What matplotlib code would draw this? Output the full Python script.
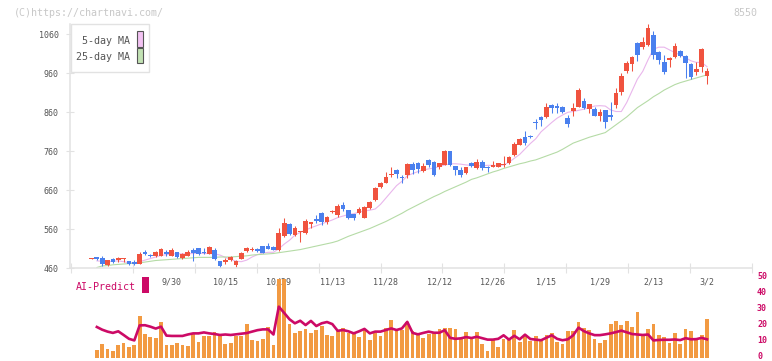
import numpy as np
import matplotlib
matplotlib.use("Agg")
import matplotlib.pyplot as plt
import matplotlib.transforms as mtransforms
from matplotlib.patches import Rectangle

plt.rcParams["font.family"] = ["DejaVu Sans Mono"]

W, H = 772, 361
nan = np.nan

# daily candles (open, high, low, close)
opens = [485, 489, 487, 468, 483, 481, 483, 479, 477, 471, 503, 494, 491, 492, 503, 492, 502, 487, 492, 508,
         511, 502, 497, 508, 479, 476, 482, 468, 484, 504, 507, 510, 516, 517, 515, 507, 544, 573, 545, 553,
         551, 573, 586, 602, 580, 605, 597, 622, 609, 599, 602, 590, 615, 635, 668, 680, 700, 713, 695, 699,
         727, 729, 709, 737, 733, 719, 726, 761, 722, 712, 705, 729, 716, 733, 721, 721, 721, 725, 730, 751,
         777, 796, 799, 835, 849, 848, 879, 877, 873, 845, 863, 874, 889, 868, 868, 850, 866, 853, 879, 912,
         967, 983, 1037, 1028, 1033, 1058, 1015, 990, 995, 1003, 1017, 1004, 984, 964, 977, 952]
highs = [487, 490, 491, 482, 486, 488, 487, 480, 481, 501, 508, 497, 505, 513, 508, 511, 503, 498, 507, 511,
         513, 511, 517, 511, 480, 486, 491, 481, 502, 515, 514, 512, 518, 524, 516, 563, 590, 575, 568, 556,
         586, 580, 597, 605, 593, 610, 624, 631, 610, 600, 618, 620, 633, 669, 681, 706, 720, 715, 699, 729,
         732, 733, 729, 740, 735, 731, 763, 762, 723, 719, 721, 733, 740, 738, 722, 735, 731, 748, 747, 783,
         794, 812, 801, 842, 851, 883, 881, 883, 876, 853, 883, 923, 896, 882, 874, 869, 867, 887, 922, 962,
         992, 1005, 1041, 1052, 1086, 1069, 1017, 1007, 1001, 1037, 1019, 1007, 986, 990, 1024, 973]
lows = [484, 482, 467, 467, 474, 475, 475, 468, 469, 470, 495, 488, 490, 491, 492, 491, 487, 483, 491, 479,
        495, 496, 496, 481, 462, 470, 480, 464, 483, 501, 505, 503, 498, 509, 506, 505, 541, 545, 544, 528,
        549, 563, 575, 571, 574, 603, 592, 607, 586, 584, 600, 588, 613, 633, 666, 678, 695, 691, 680, 691,
        701, 704, 707, 719, 697, 714, 724, 722, 698, 693, 703, 719, 714, 712, 708, 719, 719, 719, 728, 749,
        775, 776, 794, 817, 825, 846, 857, 857, 857, 823, 850, 873, 868, 857, 850, 838, 820, 840, 870, 904,
        962, 966, 992, 1022, 1030, 997, 984, 958, 977, 998, 1001, 949, 945, 956, 964, 932]
closes = [486, 483, 470, 481, 477, 486, 486, 471, 470, 497, 497, 491, 503, 510, 497, 508, 489, 497, 502, 500,
          497, 498, 515, 484, 467, 482, 488, 480, 499, 513, 509, 504, 499, 510, 507, 551, 575, 549, 563, 555,
          581, 578, 581, 580, 592, 608, 620, 612, 588, 588, 612, 618, 631, 667, 679, 694, 702, 703, 691, 727,
          712, 715, 722, 726, 698, 729, 761, 724, 711, 700, 719, 722, 733, 716, 717, 725, 729, 727, 745, 778,
          792, 781, 796, 832, 841, 874, 870, 871, 862, 831, 872, 917, 872, 881, 851, 862, 836, 849, 910, 953,
          987, 1003, 1007, 1041, 1077, 1007, 994, 964, 998, 1030, 1005, 987, 951, 971, 1022, 965]

ma5 = [nan, 479, 478, 477, 478, 479, 477, 474, 474, 477, 481, 485, 489, 493, 495, 497, 497, 497, 497, 498,
       499, 498, 498, 497, 494, 488, 483, 478, 477, 481, 489, 495, 499, 501, 501, 510, 522, 532, 545, 552,
       558, 564, 569, 574, 579, 584, 590, 594, 598, 600, 604, 607, 609, 612, 624, 640, 656, 672, 683, 697,
       703, 708, 712, 715, 717, 721, 725, 728, 728, 727, 725, 724, 723, 723, 724, 724, 723, 725, 732, 742,
       752, 766, 780, 792, 810, 822, 834, 845, 853, 860, 862, 865, 868, 872, 876, 877, 876, 866, 862, 862,
       885, 915, 945, 965, 995, 1022, 1027, 1027, 1020, 1013, 1007, 1000, 992, 988, 988, 977]
ma25 = [nan, 462, 466, 467, 469, 470, 471, 472, 473, 474, 476, 478, 480, 481, 482, 483, 484, 485, 486, 487,
        488, 488, 488, 488, 489, 489, 489, 490, 491, 492, 494, 495, 496, 497, 498, 500, 502, 504, 506, 508,
        511, 514, 517, 520, 523, 526, 530, 536, 542, 547, 552, 557, 562, 568, 574, 580, 587, 594, 601, 609,
        616, 623, 630, 637, 644, 650, 657, 663, 669, 675, 681, 688, 692, 697, 702, 707, 711, 716, 720, 724,
        728, 731, 735, 738, 743, 748, 753, 758, 765, 773, 781, 786, 791, 796, 800, 804, 808, 818, 828, 838,
        848, 860, 872, 881, 890, 900, 908, 917, 924, 931, 936, 940, 944, 948, 952, 956]

volume = [nan, 4.8, 8.6, 5.4, 4.2, 7.9, 9.4, 6.7, 7.9, 26.3, 14.8, 12.9, 12.3, 22.3, 7.9, 7.9, 9.2, 7.9, 7.3, 14.8,
          9.8, 13.5, 13.5, 16.0, 13.5, 8.6, 9.2, 13.5, 13.5, 21.0, 11.0, 10.4, 11.7, 19.2, 7.9, 49.0, 49.0, 21.0, 15.4, 16.7,
          17.9, 15.4, 17.3, 19.8, 14.2, 13.5, 16.7, 18.6, 15.4, 15.4, 12.9, 17.3, 11.0, 15.4, 13.5, 18.6, 23.6, 17.3, 17.3, 22.3,
          16.9, 14.2, 12.3, 14.8, 16.0, 17.9, 18.6, 18.6, 17.9, 11.7, 16.0, 12.9, 16.0, 8.6, 4.2, 11.0, 6.7, 11.7, 11.7, 17.3,
          9.8, 13.5, 10.4, 13.5, 11.7, 14.2, 15.4, 9.8, 8.6, 16.7, 16.7, 22.3, 18.6, 17.3, 11.7, 9.2, 11.0, 21.0, 22.9, 20.4,
          22.9, 19.4, 28.5, 13.5, 17.9, 21.0, 14.2, 13.1, 9.2, 15.2, 8.6, 17.9, 16.7, 11.0, 14.2, 24.2]
ai_predict = [nan, 19.2, 17.5, 16.3, 15.5, 16.5, 14.2, 11.8, 10.8, 20.2, 20.3, 19.4, 18.2, 19.4, 13.8, 13.6, 13.6, 13.6, 14.5, 15.2,
              15.2, 15.8, 15.2, 14.8, 14.2, 14.5, 14.2, 14.6, 15.0, 15.4, 16.3, 17.2, 17.7, 17.7, 14.5, 31.9, 28.0, 24.0, 21.5, 23.1,
              20.4, 23.0, 19.8, 21.5, 22.3, 21.0, 16.8, 17.3, 16.5, 15.2, 16.5, 18.0, 15.2, 16.3, 16.3, 17.3, 18.3, 17.3, 18.3, 22.4,
              15.5, 14.6, 15.5, 16.3, 15.6, 15.6, 17.2, 12.4, 11.8, 12.1, 12.9, 12.3, 13.1, 12.2, 11.3, 11.3, 11.8, 14.0, 11.3, 13.7,
              11.5, 14.4, 11.7, 11.3, 10.9, 12.5, 14.0, 11.8, 10.9, 11.5, 14.0, 18.8, 16.6, 15.2, 14.1, 14.1, 14.6, 15.2, 16.0, 16.9,
              15.9, 14.8, 14.5, 14.2, 14.5, 10.8, 11.1, 11.2, 11.2, 11.4, 11.0, 12.2, 11.5, 11.6, 12.4, 11.5]

date_labels = ["9/30", "10/15", "10/29", "11/13", "11/28", "12/12", "12/26", "1/15", "1/29", "2/13", "3/2"]
date_label_idx = [15, 25, 35, 45, 55, 65, 75, 85, 95, 105, 115]
price_ticks = [460, 560, 660, 760, 860, 960, 1060]
predict_ticks = [0, 10, 20, 30, 40, 50]

RED = "#f0533f"
BLUE = "#4a80ee"
PINK = "#e9b6ec"
GREEN = "#b5dba6"
ORANGE = "#f29a42"
MAG = "#cc0a66"
AXIS = "#e2e2e2"
TXT = "#555555"

opens, highs, lows, closes = map(np.array, (opens, highs, lows, closes))
x = np.arange(len(closes))


def frame(x0, y0, x1, y1):
    # pixel box -> figure fraction
    return [x0 / W, 1 - y1 / H, (x1 - x0) / W, (y1 - y0) / H]


# x-range: pixel 70..752, candle 0 at 91.5, 5.352 px per day
xlim = ((70 - 91.5) / 5.352, (752 - 91.5) / 5.352)

fig = plt.figure(figsize=(W / 100, H / 100), dpi=100)

ax = fig.add_axes(frame(70, 24, 752, 268.3))
colors = np.where(closes >= opens, RED, BLUE)
ax.plot(x, ma5, color=PINK, lw=0.8, zorder=1)
ax.plot(x, ma25, color=GREEN, lw=0.8, zorder=1)
ax.vlines(x, lows, highs, colors=colors, lw=0.75, zorder=2)
body_bottom = np.minimum(opens, closes)
body_height = np.maximum(np.abs(closes - opens), 2.6)
ax.bar(x, body_height, 0.88, bottom=body_bottom, color=colors, lw=0, zorder=3)

ax.set_xlim(xlim)
ax.set_ylim(460, 460 + (268.3 - 24) * 100 / 39)
for s in ("top", "right"):
    ax.spines[s].set_visible(False)
for s in ("left", "bottom"):
    ax.spines[s].set_color(AXIS)
    ax.spines[s].set_linewidth(1.1)
ax.set_yticks(price_ticks)
ax.set_yticklabels([str(v) for v in price_ticks])
ax.tick_params(axis="y", direction="inout", length=6, width=0.8, color=AXIS,
               labelsize=6, labelcolor=TXT, pad=5)
ax.set_xticks((np.arange(71, 753, 61.9) - 91.5) / 5.352)
ax.set_xticklabels([])
ax.tick_params(axis="x", direction="inout", length=7, width=0.8, color=AXIS)
trans = mtransforms.blended_transform_factory(ax.transData, ax.transAxes)
for idx, lab in zip(date_label_idx, date_labels):
    ax.text(idx, -0.057, lab, transform=trans, ha="center", va="center",
            fontsize=6, color=TXT)

# lower panel: volume + AI-predict
axv = fig.add_axes(frame(70, 277.7, 752, 357.7))
axv.patch.set_alpha(0)
axv.bar(x, volume, 0.7, color=ORANGE, lw=0)
axv.plot(x, ai_predict, color=MAG, lw=1.9)
axv.set_xlim(xlim)
axv.set_ylim(0, 50)
for s in axv.spines.values():
    s.set_visible(False)
axv.set_xticks([])
axv.yaxis.tick_right()
axv.set_yticks(predict_ticks)
axv.set_yticklabels([str(v) for v in predict_ticks])
axv.tick_params(axis="y", length=0, pad=3.6, labelsize=6, labelcolor=MAG)
lift = mtransforms.ScaledTranslation(0, 1.5 / 72, fig.dpi_scale_trans)
for t in axv.get_yticklabels():
    t.set_fontweight("bold")
    t.set_transform(t.get_transform() + lift)

# AI-Predict label
fig.text(76 / W, 1 - 286.5 / H, "AI-Predict", color=MAG, fontsize=7.2, va="center")
fig.patches.append(Rectangle((141.7 / W, 1 - 292.7 / H), 7.3 / W, 16 / H,
                             transform=fig.transFigure, color=MAG, lw=0))

# legend box
fig.patches.append(Rectangle((70.5 / W, 1 - 71.7 / H), 78 / W, 47.7 / H, transform=fig.transFigure,
                             fc="white", ec=AXIS, lw=1))
fig.text(129.5 / W, 1 - 40.5 / H, "5-day MA", ha="right", va="center", fontsize=7.2, color=TXT)
fig.text(129.5 / W, 1 - 57 / H, "25-day MA", ha="right", va="center", fontsize=7.2, color=TXT)
fig.patches.append(Rectangle((136.5 / W, 1 - 46.5 / H), 6 / W, 15 / H, transform=fig.transFigure,
                             fc="#f2c2f2", ec="#555555", lw=0.8))
fig.patches.append(Rectangle((136.5 / W, 1 - 63.3 / H), 6 / W, 15 / H, transform=fig.transFigure,
                             fc="#c2e2b4", ec="#555555", lw=0.8))

# watermarks
fig.text(14 / W, 1 - 12.5 / H, "(C)https://chartnavi.com/", fontsize=7.2, color="#c8c8c8", va="center")
fig.text(757 / W, 1 - 12.5 / H, "8550", fontsize=7.2, color="#c8c8c8", va="center", ha="right")

fig.savefig("out.png", dpi=100)
